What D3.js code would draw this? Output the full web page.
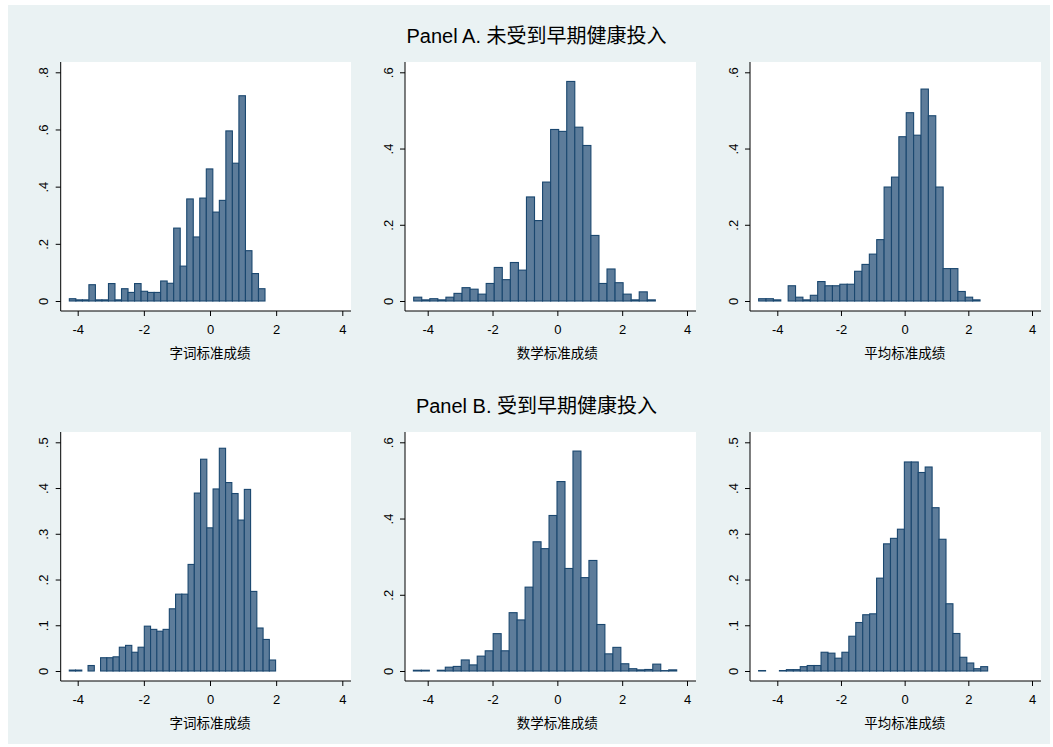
<!DOCTYPE html>
<html>
<head>
<meta charset="utf-8">
<script src="https://cdn.jsdelivr.net/npm/d3@7"></script>
<style>
  body { margin: 0; background: #ffffff; }
  svg text { font-family: "Liberation Sans", Arial, "Noto Sans CJK SC", sans-serif; fill: #000; }
</style>
</head>
<body>
<svg id="chart" width="1053" height="747"></svg>
<script>
// titles and labels
var panelTitles = ["Panel A. 未受到早期健康投入", "Panel B. 受到早期健康投入"];
var xTitles = ["字词标准成绩", "数学标准成绩", "平均标准成绩"];
var xTicks = [-4, -2, 0, 2, 4];

// y ticks for each panel (row A then row B)
var yTicksA1 = [0, .2, .4, .6, .8];
var yTicksA2 = [0, .2, .4, .6];
var yTicksA3 = [0, .2, .4, .6];
var yTicksB1 = [0, .1, .2, .3, .4, .5];
var yTicksB2 = [0, .2, .4, .6];
var yTicksB3 = [0, .1, .2, .3, .4, .5];

// histogram bins: first bin edge, bin width, density per bin
var binStartA1 = -4.253, binWidthA1 = 0.1972;
var densA1 = [0.008, 0.004, 0.004, 0.057, 0.004, 0.004, 0.061, 0.004, 0.043, 0.030,
              0.061, 0.034, 0.030, 0.030, 0.070, 0.062, 0.255, 0.122, 0.357, 0.224,
              0.360, 0.462, 0.311, 0.352, 0.595, 0.482, 0.718, 0.176, 0.096, 0.043];

var binStartA2 = -4.432, binWidthA2 = 0.2485;
var densA2 = [0.010, 0.003, 0.006, 0.003, 0.010, 0.020, 0.035, 0.031, 0.018, 0.046,
              0.088, 0.056, 0.101, 0.081, 0.273, 0.211, 0.312, 0.450, 0.445, 0.576,
              0.456, 0.408, 0.172, 0.046, 0.084, 0.048, 0.018, 0.003, 0.024, 0.003];

var binStartA3 = -4.586, binWidthA3 = 0.2318;
var densA3 = [0.006, 0.006, 0.003, 0, 0.040, 0.010, 0.003, 0.015, 0.051, 0.040,
              0.040, 0.044, 0.044, 0.078, 0.096, 0.123, 0.161, 0.299, 0.325, 0.431,
              0.494, 0.435, 0.556, 0.486, 0.299, 0.085, 0.085, 0.025, 0.010, 0.003];

var binStartB1 = -4.254, binWidthB1 = 0.189;
var densB1 = [0.002, 0.002, 0, 0.012, 0, 0.029, 0.029, 0.031, 0.052, 0.056,
              0.041, 0.052, 0.098, 0.091, 0.087, 0.091, 0.136, 0.168, 0.168, 0.233,
              0.389, 0.463, 0.313, 0.398, 0.487, 0.412, 0.388, 0.330, 0.397, 0.174,
              0.094, 0.069, 0.024];

var binStartB2 = -4.442, binWidthB2 = 0.2462;
var densB2 = [0.002, 0.002, 0, 0.002, 0.010, 0.012, 0.029, 0.016, 0.039, 0.053,
              0.098, 0.053, 0.153, 0.134, 0.220, 0.339, 0.321, 0.408, 0.497, 0.269,
              0.577, 0.245, 0.290, 0.122, 0.045, 0.062, 0.019, 0.006, 0.003, 0.004,
              0.018, 0.001, 0.003];

var binStartB3 = -4.587, binWidthB3 = 0.218;
var densB3 = [0.001, 0, 0, 0.001, 0.003, 0.003, 0.0095, 0.012, 0.012, 0.041,
              0.039, 0.028, 0.041, 0.076, 0.106, 0.123, 0.125, 0.203, 0.278, 0.290,
              0.310, 0.457, 0.457, 0.434, 0.446, 0.357, 0.288, 0.147, 0.082, 0.030,
              0.0175, 0.005, 0.0095];

// layout (pixels)
var cols = [
    {axisX: 60.7, right: 351, xMin: 77.7, xMax: 342.3},
    {axisX: 405, right: 696, xMin: 427.7, xMax: 687},
    {axisX: 750, right: 1041, xMin: 777.3, xMax: 1032}
];
var rows = [
    {top: 62, axisY: 311, yZero: 301, yTop: 72.3, titleY: 42.5},
    {top: 432, axisY: 681, yZero: 671, yTop: 442.3, titleY: 412.5}
];

var panels = [
    {row: 0, col: 0, start: binStartA1, width: binWidthA1, dens: densA1, yTicks: yTicksA1},
    {row: 0, col: 1, start: binStartA2, width: binWidthA2, dens: densA2, yTicks: yTicksA2},
    {row: 0, col: 2, start: binStartA3, width: binWidthA3, dens: densA3, yTicks: yTicksA3},
    {row: 1, col: 0, start: binStartB1, width: binWidthB1, dens: densB1, yTicks: yTicksB1},
    {row: 1, col: 1, start: binStartB2, width: binWidthB2, dens: densB2, yTicks: yTicksB2},
    {row: 1, col: 2, start: binStartB3, width: binWidthB3, dens: densB3, yTicks: yTicksB3}
];

var barFill = "#5d7c9a", barLine = "#1a476f", bgColor = "#eaf2f3";

function yFormat(d){
    if(d == 0){ return "0"; }
    return String(d).replace(/^0/, "");
}

var svg = d3.select("svg#chart");

// graph region background
svg.append("rect")
    .attr("x", 8).attr("y", 5)
    .attr("width", 1042).attr("height", 739)
    .attr("fill", bgColor);

// row titles
rows.forEach(function(r, i){
    svg.append("text")
        .attr("x", 536.5).attr("y", r.titleY)
        .attr("text-anchor", "middle")
        .attr("font-size", 20)
        .text(panelTitles[i]);
});

panels.forEach(function(p){
    var c = cols[p.col], r = rows[p.row];
    var g = svg.append("g");

    var xScale = d3.scaleLinear().domain([-4, 4]).range([c.xMin, c.xMax]);
    var yScale = d3.scaleLinear()
                    .domain([0, p.yTicks[p.yTicks.length - 1]])
                    .range([r.yZero, r.yTop]);

    // plot region
    g.append("rect")
        .attr("x", c.axisX).attr("y", r.top)
        .attr("width", c.right - c.axisX).attr("height", r.axisY - r.top)
        .attr("fill", "#ffffff");

    var bins = p.dens.map(function(d, i){
        return {x0: p.start + i * p.width, x1: p.start + (i + 1) * p.width, h: d};
    }).filter(function(b){ return b.h > 0; });

    g.selectAll("rect.bar")
        .data(bins)
        .join("rect")
        .attr("class", "bar")
        .attr("x", function(d){ return xScale(d.x0); })
        .attr("y", function(d){ return yScale(d.h); })
        .attr("width", function(d){ return xScale(d.x1) - xScale(d.x0); })
        .attr("height", function(d){ return yScale(0) - yScale(d.h); })
        .attr("fill", barFill)
        .attr("stroke", barLine)
        .attr("stroke-width", 1.1);

    // y axis
    var yAxis = d3.axisLeft(yScale)
                    .tickValues(p.yTicks)
                    .tickSize(5)
                    .tickFormat(yFormat);
    var ya = g.append("g")
        .attr("transform", "translate(" + c.axisX + ",0)")
        .call(yAxis);
    ya.select(".domain").remove();
    ya.selectAll("line").attr("stroke", "#000");
    ya.selectAll("text")
        .attr("x", null).attr("dy", null)
        .attr("text-anchor", "middle")
        .attr("font-size", 13)
        .attr("transform", "translate(-12.4,0) rotate(-90)");
    g.append("line")
        .attr("x1", c.axisX).attr("x2", c.axisX)
        .attr("y1", r.top).attr("y2", r.axisY)
        .attr("stroke", "#000");

    // x axis
    var xAxis = d3.axisBottom(xScale)
                    .tickValues(xTicks)
                    .tickSize(5)
                    .tickFormat(function(d){ return String(d); });
    var xa = g.append("g")
        .attr("transform", "translate(0," + r.axisY + ")")
        .call(xAxis);
    xa.select(".domain").remove();
    xa.selectAll("line").attr("stroke", "#000");
    xa.selectAll("text")
        .attr("y", 23).attr("dy", null)
        .attr("font-size", 13);
    g.append("line")
        .attr("x1", c.axisX).attr("x2", c.right)
        .attr("y1", r.axisY).attr("y2", r.axisY)
        .attr("stroke", "#000");

    g.append("text")
        .attr("x", (c.xMin + c.xMax) / 2)
        .attr("y", r.axisY + 46.5)
        .attr("text-anchor", "middle")
        .attr("font-size", 13.5)
        .text(xTitles[p.col]);
});
</script>
</body>
</html>
